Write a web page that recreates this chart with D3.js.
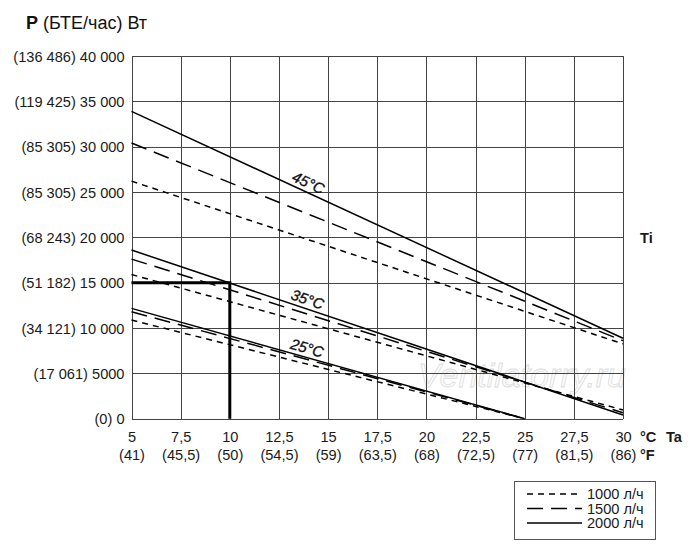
<!DOCTYPE html>
<html>
  <head>
    <meta charset="utf-8">
    <title>P (БТЕ/час) Вт</title>
    <script src="https://cdn.jsdelivr.net/npm/d3@7"></script>
    <style>
      body { margin: 0; background: #fff; }
      #chart { width: 700px; height: 558px; display: block; font-family: "Liberation Sans", Arial, sans-serif; }
      .grid line { stroke: #444; stroke-width: 1; shape-rendering: crispEdges; }
      .tick text { font-size: 14.6px; fill: #1a1a1a; }
      .curve { fill: none; stroke: #000; stroke-width: 1.5; }
      .short { stroke-dasharray: 6 5; }
      .long { stroke-dasharray: 16 8; }
      .ti { font-size: 15px; font-style: italic; fill: #111; stroke: #111; stroke-width: 0.35; }
      .bold { font-weight: bold; }
    </style>
  </head>

  <body>
    <svg id="chart" width="700" height="558">
      <text id="title" x="26" y="29"></text>
      <text id="watermark"></text>
      <g id="gridGroup" class="grid"></g>
      <g id="yAxisGroup"></g>
      <g id="xAxisGroup"></g>
      <g id="chartGroup"></g>
      <g id="labelGroup"></g>
      <g id="legend"></g>
    </svg>

    <script>
      // data
      taTicks = [5, 7.5, 10, 12.5, 15, 17.5, 20, 22.5, 25, 27.5, 30];
      taLabels = ["5", "7,5", "10", "12,5", "15", "17,5", "20", "22,5", "25", "27,5", "30"];
      fahrLabels = ["(41)", "(45,5)", "(50)", "(54,5)", "(59)", "(63,5)", "(68)", "(72,5)", "(77)", "(81,5)", "(86)"];
      powerTicks = [0, 5000, 10000, 15000, 20000, 25000, 30000, 35000, 40000];
      powerLabels = ["(0) 0", "(17 061) 5000", "(34 121) 10 000", "(51 182) 15 000", "(68 243) 20 000",
        "(85 305) 25 000", "(85 305) 30 000", "(119 425) 35 000", "(136 486) 40 000"];
      flows = ["1000 л/ч", "1500 л/ч", "2000 л/ч"];
      tiNames = ["45°C", "35°C", "25°C"];
      // [Ta, P] per flow: 1000, 1500, 2000 л/ч
      ti45 = [[[5, 26200], [30, 8250]], [[5, 30400], [30, 8600]], [[5, 33900], [30, 8870]]];
      ti35 = [[[5, 15900], [30, 960]], [[5, 17600], [30, 650]], [[5, 18600], [30, 400]]];
      ti25 = [[[5, 10880], [25, 0]], [[5, 11800], [25, 0]], [[5, 12170], [25, 0]]];
      example = [[5, 15000], [10, 15000], [10, 0]];
      labelTa = 13.8;

      // elements
      chart = d3.select("#chart");
      gridGroup = d3.select("#gridGroup");
      yAxisGroup = d3.select("#yAxisGroup");
      xAxisGroup = d3.select("#xAxisGroup");
      chartGroup = d3.select("#chartGroup");
      labelGroup = d3.select("#labelGroup");
      legend = d3.select("#legend");

      margin = { top: 56, right: 77, bottom: 139.3, left: 131.5 };
      width = 700;
      height = 558;

      x = d3.scaleLinear()
        .domain([5, 30])
        .range([margin.left, width - margin.right]);
      y = d3.scaleLinear()
        .domain([0, 40000])
        .range([height - margin.bottom, margin.top]);

      // title
      title = d3.select("#title").style("font-size", "18px").attr("fill", "#111");
      title.append("tspan").attr("class", "bold").text("P");
      title.append("tspan").text(" (БТЕ/час) Вт");

      // watermark
      d3.select("#watermark")
        .attr("x", 522)
        .attr("y", 387)
        .attr("text-anchor", "middle")
        .style("font-size", "34px")
        .style("font-style", "italic")
        .attr("fill", "#fbfbfb")
        .attr("stroke", "#dcdcdc")
        .attr("stroke-width", 0.8)
        .text("Ventilatorry.ru");

      // grid
      gridGroup.selectAll(".v")
        .data(taTicks)
        .join("line")
        .attr("x1", d => Math.round(x(d)) + 0.5)
        .attr("x2", d => Math.round(x(d)) + 0.5)
        .attr("y1", y(40000))
        .attr("y2", y(0));
      gridGroup.selectAll(".h")
        .data(powerTicks)
        .join("line")
        .attr("class", "h")
        .attr("x1", x(5))
        .attr("x2", x(30))
        .attr("y1", d => Math.round(y(d)) + 0.5)
        .attr("y2", d => Math.round(y(d)) + 0.5);

      // axes
      yAxis = d3.axisLeft(y)
        .tickValues(powerTicks)
        .tickSize(0)
        .tickPadding(7)
        .tickFormat((d, i) => powerLabels[i]);
      yAxisGroup.attr("transform", "translate(" + margin.left + ", 0)")
        .call(yAxis)
        .call(g => g.select(".domain").remove());
      yAxisGroup.selectAll("text").attr("dy", "0.36em");

      xAxis = d3.axisBottom(x)
        .tickValues(taTicks)
        .tickSize(0)
        .tickPadding(0)
        .tickFormat("");
      xAxisGroup.attr("transform", "translate(0, " + y(0) + ")")
        .call(xAxis)
        .call(g => g.select(".domain").remove());
      xAxisGroup.selectAll(".tick").each(function(d, i) {
        let t = d3.select(this).append("text")
          .attr("text-anchor", "middle")
          .attr("fill", "#1a1a1a");
        t.append("tspan").attr("x", 0).attr("y", 23).text(taLabels[i]);
        t.append("tspan").attr("x", 0).attr("y", 41).text(fahrLabels[i]);
      });

      unit = chart.append("g").attr("class", "bold").style("font-size", "14.6px").attr("fill", "#1a1a1a");
      unit.append("text").attr("x", x(30) + 17).attr("y", y(0) + 23).text("°C");
      unit.append("text").attr("x", x(30) + 17).attr("y", y(0) + 41).text("°F");
      unit.append("text").attr("x", x(30) + 43).attr("y", y(0) + 23).text("Ta");
      unit.append("text").attr("x", x(30) + 17).attr("y", y(20000)).attr("dy", "0.36em").text("Ti");

      // lines
      line = d3.line()
        .x(d => x(d[0]))
        .y(d => y(d[1]));
      styles = ["short", "long", ""];

      [ti45, ti35, ti25].forEach((group, gi) => {
        chartGroup.selectAll(".g" + gi)
          .data(group)
          .join("path")
          .attr("class", (d, i) => "curve " + styles[i])
          .attr("d", line);

        // label along the 2000 л/ч line
        let solid = group[2];
        let p = d3.scaleLinear().domain([solid[0][0], solid[1][0]]).range([solid[0][1], solid[1][1]]);
        let px = x(labelTa);
        let py = y(p(labelTa));
        let angle = Math.atan2(y(solid[1][1]) - y(solid[0][1]), x(solid[1][0]) - x(solid[0][0])) * 180 / Math.PI;
        labelGroup.append("text")
          .attr("class", "ti")
          .attr("text-anchor", "middle")
          .attr("transform", "translate(" + px + "," + py + ") rotate(" + angle + ") translate(0,-4)")
          .text(tiNames[gi]);
      });

      chartGroup.append("path")
        .attr("fill", "none")
        .attr("stroke", "#000")
        .attr("stroke-width", 3)
        .attr("d", line(example));

      // legend
      legend.append("rect")
        .attr("x", 514.5)
        .attr("y", 481.5)
        .attr("width", 141)
        .attr("height", 58)
        .attr("fill", "#fff")
        .attr("stroke", "#555");
      rows = legend.selectAll(".row")
        .data(flows)
        .join("g")
        .attr("transform", (d, i) => "translate(527," + (494 + i * 14.5) + ")");
      rows.append("line")
        .attr("class", (d, i) => "curve " + styles[i])
        .attr("x1", 0)
        .attr("x2", 55)
        .attr("stroke-width", 1.5);
      rows.append("text")
        .attr("x", 60)
        .attr("dy", "0.36em")
        .style("font-size", "14.6px")
        .attr("fill", "#1a1a1a")
        .text(d => d);
    </script>
  </body>
</html>
